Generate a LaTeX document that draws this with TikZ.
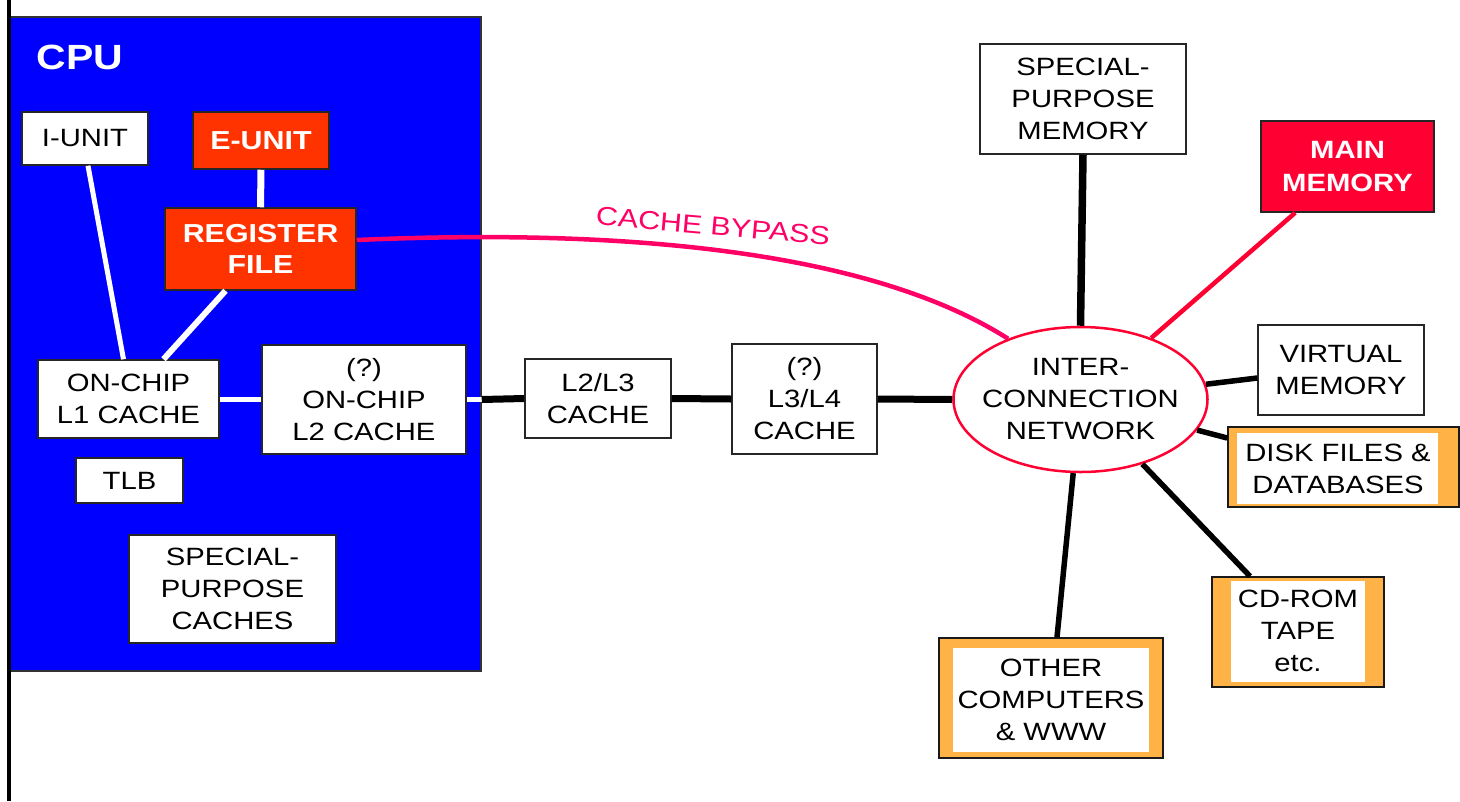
\documentclass[tikz,border=0pt]{standalone}
\usepackage{fontspec}
\setmainfont{Liberation Sans}[FakeStretch=1.17]
\usetikzlibrary{shapes.geometric,calc}
\definecolor{cpublue}{HTML}{0000FF}
\definecolor{unitred}{HTML}{FF3300}
\definecolor{memred}{HTML}{FF0033}
\definecolor{bypassred}{HTML}{FF0066}
\definecolor{storage}{HTML}{FFB347}
\tikzset{
  box/.style={draw=black!85, line width=1.5pt, fill=white, inner sep=0pt, align=center,
    font=\fontsize{25}{32}\selectfont},
  redbox/.style={box, fill=unitred, text=white, font=\bfseries\fontsize{26}{31}\selectfont},
  membox/.style={box, fill=memred, text=white, font=\bfseries\fontsize{25}{33}\selectfont},
  storebox/.style={draw=black!90, line width=1.5pt, fill=storage, inner sep=0pt},
  txt/.style={inner sep=0pt, align=center, font=\fontsize{25}{32}\selectfont},
  whiteline/.style={draw=white, line width=5pt},
  blackline/.style={draw=black, line width=7pt},
}
\begin{document}
\begin{tikzpicture}[x=1pt,y=-1pt]
\useasboundingbox[fill=white] (0,0) rectangle (1460,801);

% CPU
\node[draw=black!80, line width=1.5pt, fill=cpublue, minimum width=471, minimum height=654, inner sep=0pt] (cpu) at (245.5,344) {};
\draw[line width=4pt] (9,0) -- (9,801);
\node[text=white, inner sep=0pt, font=\bfseries\fontsize{35}{40}\selectfont] (cpulabel) at (80,57) {CPU};

\node[box, minimum width=126, minimum height=53] (iunit) at (85,138.5) {I-UNIT};
\node[redbox, minimum width=136, minimum height=57] (eunit) at (261,140.5) {E-UNIT};
\node[redbox, minimum width=191, minimum height=82] (regfile) at (260.5,249) {REGISTER\\FILE};
\node[box, minimum width=181, minimum height=78] (l1) at (128.5,399) {ON-CHIP\\L1 CACHE};
\node[box, minimum width=204, minimum height=109] (l2) at (364,399.5) {(?)\\ON-CHIP\\L2 CACHE};
\node[box, minimum width=107, minimum height=45] (tlb) at (129.5,480.5) {TLB};
\node[box, minimum width=207, minimum height=108] (spc) at (232.5,589) {SPECIAL-\\PURPOSE\\CACHES};

% white links inside CPU
\draw[whiteline] ([xshift=3pt]iunit.south) -- ([xshift=-5pt]l1.north);
\draw[whiteline, line width=7pt] (eunit.south) -- (regfile.north);
\draw[whiteline, line width=6pt] ([xshift=-35pt]regfile.south) -- ([xshift=35pt]l1.north);
\draw[whiteline] (l1.east) -- (l1.east -| l2.west);
\draw[whiteline] (l2.east) -- (l2.east -| cpu.east);

% caches outside
\node[box, minimum width=146, minimum height=79] (l23) at (598,398.5) {L2/L3\\CACHE};
\node[box, minimum width=145, minimum height=110] (l34) at (804.5,399) {(?)\\L3/L4\\CACHE};

% interconnection network
\node[ellipse, draw=memred, line width=2.5pt, fill=white, minimum width=254, minimum height=145, inner sep=0pt] (net) at (1080.5,399.5) {};
\node[txt] (nettxt) at (net) {INTER-\\CONNECTION\\NETWORK};

\draw[blackline] (l2.east -| cpu.east) -- (l23.west);
\draw[blackline] (l23.east) -- (l34.west);
\draw[blackline] (l34.east) -- (net.west);

% memories
\node[box, minimum width=206, minimum height=110] (spm) at (1083,99) {SPECIAL-\\PURPOSE\\MEMORY};
\node[membox, minimum width=173, minimum height=91] (mainmem) at (1347.5,166.5) {MAIN\\MEMORY};
\node[box, minimum width=166, minimum height=90] (vm) at (1341,370) {VIRTUAL\\MEMORY};

% storage boxes
\node[storebox, minimum width=231, minimum height=80] (disk) at (1343.5,467) {};
\fill[white] ([shift={(10,7)}]disk.north west) rectangle ([shift={(-22,-4)}]disk.south east);
\node[txt] (disktxt) at (1338,468.5) {DISK FILES \&\\DATABASES};

\node[storebox, minimum width=172, minimum height=110] (cdrom) at (1298,632) {};
\fill[white] ([shift={(20,5)}]cdrom.north west) rectangle ([shift={(-20,-6)}]cdrom.south east);
\node[txt] (cdromtxt) at (1298,631) {CD-ROM\\TAPE\\etc.};

\node[storebox, minimum width=224, minimum height=120] (other) at (1051,698) {};
\fill[white] ([shift={(15,11)}]other.north west) rectangle ([shift={(-15,-7)}]other.south east);
\node[txt] (othertxt) at (1051,700) {OTHER\\COMPUTERS\\\& WWW};

% links to network
\draw[line width=7.5pt] (spm.south) -- (net.north);
\draw[draw=memred, line width=4.5pt] ($(mainmem.south west)!0.2!(mainmem.south east)$) -- (net);
\draw[line width=5.5pt] ([yshift=-8pt]vm.west) -- (net);
\draw[line width=5.5pt] ([yshift=29pt]disk.west) -- (net);
\draw[line width=5.5pt] ([xshift=-48pt]cdrom.north) -- (net);
\draw[line width=5.5pt] ([xshift=6pt]other.north) -- (net);

% cache bypass
\draw[draw=bypassred, line width=4.5pt] ([yshift=9pt]regfile.east) .. controls (700,225) and (900,270) .. (net.140);
\node[text=bypassred, inner sep=0pt, rotate=-5, font=\fontsize{26}{30}\selectfont] (bypasstxt) at (713,226) {CACHE BYPASS};
\end{tikzpicture}
\end{document}
